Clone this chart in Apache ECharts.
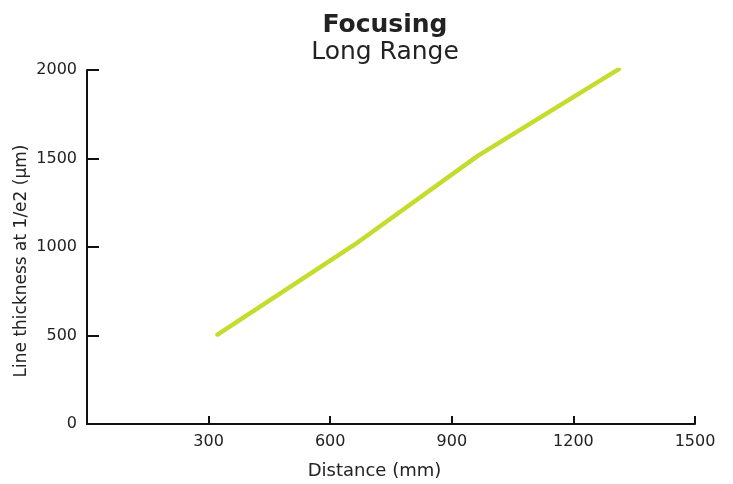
<!DOCTYPE html>
<html><head><meta charset="utf-8">
<script src="https://cdn.jsdelivr.net/npm/echarts@6/dist/echarts.min.js"></script>
<style>html,body{margin:0;padding:0;background:#fff}#c{width:733px;height:484px}</style>
</head><body><div id="c"></div>
<script>
const distance = [322, 658, 964, 1312];
const thickness = [505, 1010, 1515, 2005];
const xTicks = [0, 300, 600, 900, 1200, 1500];
const yTicks = [0, 500, 1000, 1500, 2000];
const titleText = 'Focusing';
const subtitleText = 'Long Range';
const xName = 'Distance (mm)';
const yName = 'Line thickness at 1/e2 (µm)';

const font = 'DejaVu Sans';
const ink = '#222';
const chart = echarts.init(document.getElementById('c'), null, {renderer: 'canvas'});
chart.setOption({
  animation: false,
  title: [
    {text: titleText, left: 380, textAlign: 'center', top: 8,
     textStyle: {fontFamily: font, fontWeight: 'bold', fontSize: 25, color: ink}},
    {text: subtitleText, left: 380, textAlign: 'center', top: 35,
     textStyle: {fontFamily: font, fontWeight: 'normal', fontSize: 25, color: ink}}
  ],
  graphic: [{
    type: 'text', x: 22, y: 261, rotation: Math.PI / 2,
    style: {text: yName, fontFamily: font, fontSize: 17, fill: ink,
      textAlign: 'center', textVerticalAlign: 'middle'}
  }],
  grid: {left: 87, right: 38, top: 70, bottom: 60, containLabel: false, outerBoundsMode: 'none'},
  xAxis: {
    type: 'value', min: 0, max: 1500, interval: 300,
    name: xName, nameLocation: 'middle', nameGap: 38,
    nameTextStyle: {fontFamily: font, fontSize: 18, color: ink, padding: [0, 33, 0, 0]},
    axisLine: {lineStyle: {color: '#111', width: 2}},
    axisTick: {show: true, inside: true, length: 8, lineStyle: {color: '#111', width: 2}},
    axisLabel: {fontFamily: font, fontSize: 16, color: ink, margin: 10,
      formatter: v => v === 0 ? '' : String(v)},
    splitLine: {show: false}
  },
  yAxis: {
    type: 'value', min: 0, max: 2000, interval: 500,
    axisLine: {show: true, lineStyle: {color: '#111', width: 2}},
    axisTick: {show: true, inside: true, length: 12, lineStyle: {color: '#111', width: 2}},
    axisLabel: {fontFamily: font, fontSize: 16, color: ink, margin: 10,
      padding: [6, 0, 0, 0], formatter: v => String(v)},
    splitLine: {show: false}
  },
  series: [{
    type: 'line',
    data: distance.map((d, i) => [d, thickness[i]]),
    showSymbol: false,
    lineStyle: {color: '#c5dc2f', width: 4.5, cap: 'round'}
  }]
});
</script></body></html>
